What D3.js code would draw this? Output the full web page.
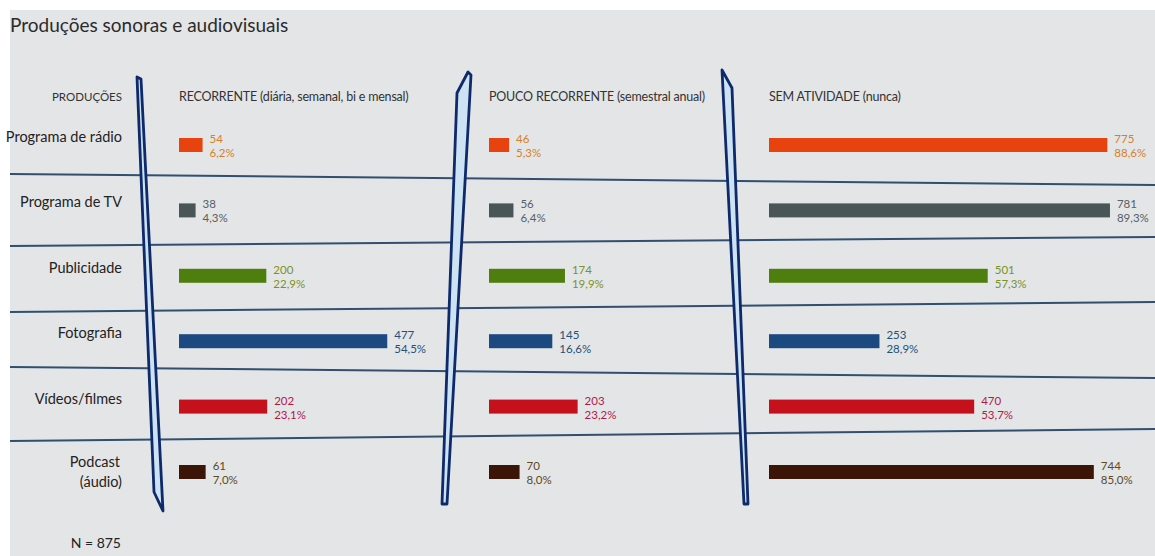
<!DOCTYPE html>
<html>
<head>
<meta charset="utf-8">
<script src="https://cdn.jsdelivr.net/npm/d3@7"></script>
<style>
  html, body { margin: 0; padding: 0; background: #ffffff; }
  svg { display: block; }
  text { font-family: Lato, "Open Sans", sans-serif; }
</style>
</head>
<body>
<svg id="chart" width="1155" height="556"></svg>
<script>
// ---- data ----
const categories = ["Programa de rádio", "Programa de TV", "Publicidade", "Fotografia", "Vídeos/filmes", "Podcast (áudio)"];
const groups = ["RECORRENTE (diária, semanal, bi e mensal)", "POUCO RECORRENTE (semestral anual)", "SEM ATIVIDADE (nunca)"];
const recorrente = [54, 38, 200, 477, 202, 61];
const recorrentePct = ["6,2%", "4,3%", "22,9%", "54,5%", "23,1%", "7,0%"];
const poucoRecorrente = [46, 56, 174, 145, 203, 70];
const poucoRecorrentePct = ["5,3%", "6,4%", "19,9%", "16,6%", "23,2%", "8,0%"];
const semAtividade = [775, 781, 501, 253, 470, 744];
const semAtividadePct = ["88,6%", "89,3%", "57,3%", "28,9%", "53,7%", "85,0%"];
const total = 875;
const title = "Produções sonoras e audiovisuais";
const rowHeader = "PRODUÇÕES";
const note = "N = 875";

// ---- styles ----
const barColors = ["#e8420e", "#4a5558", "#4e7f0e", "#1c4a80", "#c4111c", "#3a1508"];
const labelColors = ["#d6802a", "#566064", "#7c9322", "#25507a", "#b01a48", "#5c4a22"];

const svg = d3.select("#chart");
svg.append("rect").attr("x", 10).attr("y", 10).attr("width", 1145).attr("height", 546).attr("fill", "#e4e5e7");

const series = [
  {vals: recorrente, pct: recorrentePct},
  {vals: poucoRecorrente, pct: poucoRecorrentePct},
  {vals: semAtividade, pct: semAtividadePct}
];
const panelX = [179, 489, 769];

const x = d3.scaleLinear().domain([0, total]).range([0, 382]);
const y = d3.scalePoint().domain(categories).range([145, 472]);
const barH = 14;

// separator lines (slightly slanted, as in the scan)
const seps = [[174, 185], [246, 237], [312, 302], [367, 378], [441, 429]];
svg.selectAll("line.sep").data(seps).join("line")
  .attr("class", "sep")
  .attr("x1", 10).attr("x2", 1155)
  .attr("y1", d => d[0]).attr("y2", d => d[1])
  .attr("stroke", "#2f5070").attr("stroke-width", 2);

// title
svg.append("text").attr("x", 10).attr("y", 32)
  .attr("font-size", 19).attr("fill", "#2b2b2b").text(title);

// headers
svg.append("text").attr("x", 122).attr("y", 101).attr("text-anchor", "end")
  .attr("font-size", 11.5).attr("fill", "#333").text(rowHeader);
svg.selectAll("text.grp").data(groups).join("text")
  .attr("class", "grp")
  .attr("x", (d, i) => panelX[i]).attr("y", 101)
  .attr("font-size", 12.5).attr("fill", "#333").attr("letter-spacing", -0.2).text(d => d);

// row labels
const rowLab = svg.selectAll("text.row").data(categories).join("text")
  .attr("class", "row")
  .attr("text-anchor", "end")
  .attr("x", 122)
  .attr("font-size", 14.5)
  .attr("fill", "#222");
rowLab.each(function(d) {
  const t = d3.select(this);
  const yy = y(d);
  const m = d.match(/^(\S+) (\(.*\))$/);
  if (m) {
    t.append("tspan").attr("x", 120).attr("y", yy - 5).text(m[1]);
    t.append("tspan").attr("x", 122).attr("y", yy + 15).text(m[2]);
  } else {
    t.attr("y", yy - 3).text(d);
  }
});

// bars and value labels
series.forEach((s, gi) => {
  const g = svg.append("g").attr("transform", `translate(${panelX[gi]},0)`);
  g.selectAll("rect").data(categories).join("rect")
    .attr("x", 0)
    .attr("y", d => y(d) - barH / 2)
    .attr("width", (d, i) => x(s.vals[i]))
    .attr("height", barH)
    .attr("fill", (d, i) => barColors[i]);
  g.selectAll("text.v").data(categories).join("text")
    .attr("class", "v")
    .attr("x", (d, i) => x(s.vals[i]) + 7)
    .attr("y", d => y(d) - 2)
    .attr("font-size", 11.5)
    .attr("fill", (d, i) => labelColors[i])
    .text((d, i) => s.vals[i]);
  g.selectAll("text.p").data(categories).join("text")
    .attr("class", "p")
    .attr("x", (d, i) => x(s.vals[i]) + 7)
    .attr("y", d => y(d) + 12)
    .attr("font-size", 11.5)
    .attr("fill", (d, i) => labelColors[i])
    .text((d, i) => s.pct[i]);
});

// hand-drawn dividers
const dividers = [
  "M137,77 L141,79 L163,511 L154,492 Z",
  "M468,72 L471,75 L447,504 L442,504 L457,93 Z",
  "M722,70 L732,88 L748,504 L744,504 Z"
];
svg.selectAll("path.div").data(dividers).join("path")
  .attr("class", "div")
  .attr("d", d => d)
  .attr("fill", "#cde2f2")
  .attr("stroke", "#0e2a6a")
  .attr("stroke-width", 2.8)
  .attr("stroke-linejoin", "round");

// note
svg.append("text").attr("x", 121).attr("y", 548).attr("text-anchor", "end")
  .attr("font-size", 14).attr("fill", "#222").text(note);
</script>
</body>
</html>
